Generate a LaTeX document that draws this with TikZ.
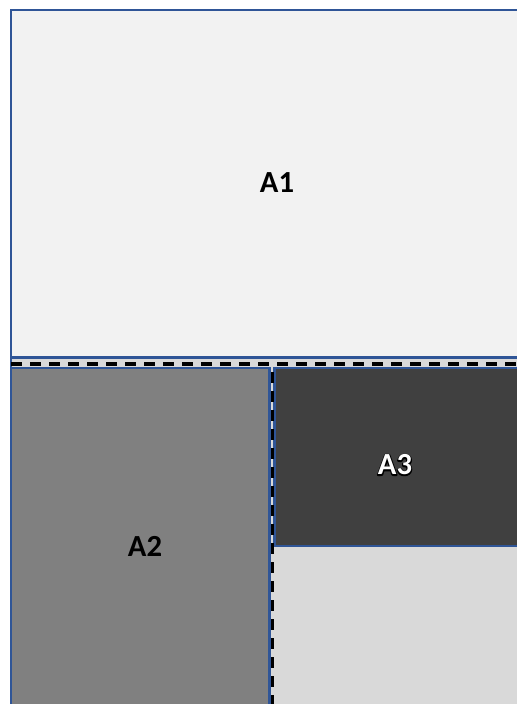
\documentclass[tikz,border=0pt]{standalone}
\usepackage{fontspec}
\setmainfont{Carlito}
\definecolor{zoneline}{HTML}{2F5597}
\definecolor{aonefill}{HTML}{F2F2F2}
\definecolor{atwofill}{HTML}{808080}
\definecolor{athreefill}{HTML}{404040}
\definecolor{restfill}{HTML}{D9D9D9}
% white letters with a black outline: stroked black copy under a white one
\newcommand{\outlined}[1]{\rlap{\color{black}\special{pdf:literal direct 1.6 w 1 j 2 Tr}#1\special{pdf:literal direct 0 Tr}}{\color{white}#1}}
\tikzset{
  zone/.style    = {draw=zoneline, line width=2pt},
  cutline/.style = {draw=black, line width=2.6pt, dash pattern=on 8.25pt off 6pt},
  lbl/.style     = {font=\fontsize{23}{28}\selectfont\bfseries, inner sep=0pt},
}

\begin{document}
\begin{tikzpicture}[x=0.75pt, y=-0.75pt]
        \useasboundingbox (0,0) rectangle (517,704);
        \clip (0,0) rectangle (517,704);
        \fill[white] (0,0) rectangle (517,704);
        % zones
        \path[zone, fill=restfill]   (11,358)    rectangle (545,720);
        \path[zone, fill=aonefill]   (11,10)     rectangle (545,357);
        \path[zone, fill=atwofill]   (11,368)    rectangle (269.5,724);
        \path[zone, fill=athreefill] (274.5,368) rectangle (545,546);
        % cut lines
        \draw[cutline] (11,364) -- (517,364);
        \draw[cutline, dash phase=11.25pt] (272.5,368) -- (272.5,704);
        % labels
        \node[lbl] (a1) at (277,183) {A1};
        \node[lbl] (a2) at (145,546) {A2};
        \node[lbl] (a3) at (395,465) {\outlined{A3}};
    \end{tikzpicture}
\end{document}
